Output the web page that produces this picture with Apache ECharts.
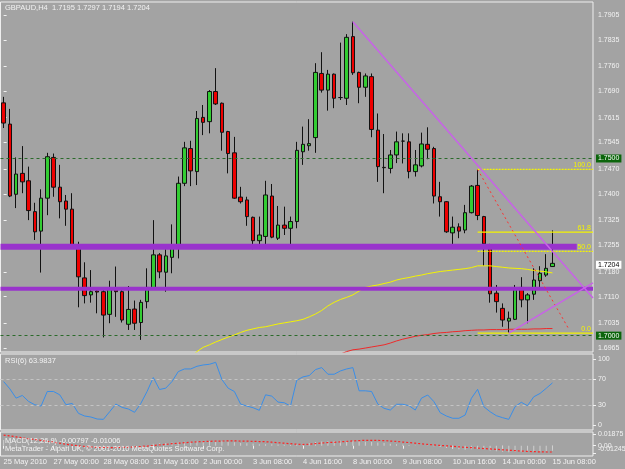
<!DOCTYPE html>
<html><head><meta charset="utf-8">
<script src="https://cdn.jsdelivr.net/npm/echarts/dist/echarts.min.js"></script>
<style>html,body{margin:0;padding:0;background:#a3a3a3;}#c{width:625px;height:469px;}</style>
</head><body><div id="c"></div>
<script>
// ---------- data ----------
const tickLabels = ["25 May 2010","27 May 00:00","28 May 08:00","31 May 16:00","2 Jun 00:00","3 Jun 08:00","4 Jun 16:00","8 Jun 00:00","9 Jun 08:00","10 Jun 16:00","14 Jun 00:00","15 Jun 08:00"];
const priceTicks = [1.7905,1.7835,1.7760,1.7690,1.7615,1.7545,1.7470,1.7400,1.7325,1.7255,1.7180,1.7110,1.7035,1.6965];
const rsiTicks = [0,30,70,100];
const macdTicksTop = [0.01875,0];
const macdTicksBottom = [-0.01245];
// [open, high, low, close]
const candles = [
[1.7657,1.7674,1.7586,1.7600],[1.7597,1.7640,1.7391,1.7394],[1.7399,1.7503,1.7360,1.7456],[1.7458,1.7535,1.7402,1.7434],
[1.7437,1.7477,1.7326,1.7353],[1.7350,1.7375,1.7270,1.7293],[1.7295,1.7413,1.7178,1.7388],[1.7388,1.7516,1.7340,1.7505],
[1.7503,1.7514,1.7392,1.7419],[1.7419,1.7482,1.7331,1.7378],[1.7380,1.7397,1.7310,1.7357],[1.7357,1.7402,1.7245,1.7251],
[1.7254,1.7265,1.7080,1.7166],[1.7163,1.7207,1.7091,1.7113],[1.7115,1.7185,1.7093,1.7124],[1.7126,1.7129,1.7063,1.7123],
[1.7124,1.7129,1.6995,1.7058],[1.7060,1.7155,1.7035,1.7131],[1.7129,1.7195,1.7053,1.7124],[1.7124,1.7131,1.7037,1.7044],
[1.7032,1.7140,1.7016,1.7074],[1.7075,1.7099,1.7016,1.7035],[1.7037,1.7101,1.6988,1.7094],[1.7096,1.7190,1.7077,1.7136],
[1.7133,1.7326,1.7131,1.7228],[1.7228,1.7233,1.7162,1.7180],[1.7179,1.7244,1.7124,1.7225],[1.7221,1.7314,1.7176,1.7249],
[1.7247,1.7449,1.7218,1.7430],[1.7430,1.7547,1.7422,1.7530],[1.7528,1.7550,1.7422,1.7465],[1.7463,1.7634,1.7425,1.7613],
[1.7616,1.7651,1.7566,1.7602],[1.7604,1.7693,1.7571,1.7689],[1.7689,1.7755,1.7651,1.7654],[1.7656,1.7658,1.7522,1.7574],
[1.7576,1.7578,1.7458,1.7514],[1.7516,1.7561,1.7386,1.7388],[1.7391,1.7420,1.7373,1.7378],[1.7383,1.7392,1.7310,1.7336],
[1.7334,1.7336,1.7244,1.7268],[1.7268,1.7336,1.7251,1.7284],[1.7280,1.7437,1.7249,1.7397],[1.7394,1.7428,1.7275,1.7278],
[1.7275,1.7366,1.7270,1.7312],[1.7312,1.7364,1.7284,1.7303],[1.7303,1.7336,1.7256,1.7322],[1.7322,1.7547,1.7303,1.7523],
[1.7519,1.7590,1.7482,1.7540],[1.7536,1.7611,1.7522,1.7542],[1.7559,1.7769,1.7516,1.7743],[1.7740,1.7800,1.7686,1.7693],
[1.7693,1.7750,1.7635,1.7738],[1.7738,1.7740,1.7642,1.7670],[1.7672,1.7827,1.7665,1.7672],[1.7670,1.7851,1.7651,1.7842],
[1.7844,1.7886,1.7736,1.7742],[1.7743,1.7745,1.7656,1.7701],[1.7701,1.7740,1.7674,1.7733],[1.7731,1.7740,1.7560,1.7582],
[1.7580,1.7627,1.7434,1.7477],[1.7475,1.7569,1.7402,1.7474],[1.7472,1.7524,1.7458,1.7510],[1.7510,1.7576,1.7487,1.7547],
[1.7549,1.7571,1.7486,1.7549],[1.7547,1.7571,1.7444,1.7463],[1.7463,1.7524,1.7449,1.7482],[1.7479,1.7573,1.7475,1.7541],
[1.7540,1.7588,1.7498,1.7526],[1.7528,1.7533,1.7373,1.7394],[1.7392,1.7434,1.7336,1.7378],[1.7378,1.7380,1.7290,1.7293],
[1.7290,1.7336,1.7251,1.7306],[1.7307,1.7317,1.7275,1.7295],[1.7298,1.7369,1.7289,1.7347],[1.7347,1.7425,1.7345,1.7422],
[1.7424,1.7469,1.7326,1.7339],[1.7336,1.7338,1.7197,1.7259],[1.7257,1.7259,1.7093,1.7118],[1.7120,1.7143,1.7065,1.7096],
[1.7077,1.7091,1.7025,1.7044],[1.7041,1.7068,1.7007,1.7049],[1.7046,1.7143,1.7044,1.7135],[1.7136,1.7165,1.7080,1.7101],
[1.7101,1.7120,1.7035,1.7115],[1.7117,1.7190,1.7101,1.7157],[1.7155,1.7196,1.7129,1.7176],[1.7171,1.7230,1.7166,1.7190],
[1.7195,1.7297,1.7194,1.7204]
];
const maYellowStart = 30;
const maYellow = [1.6940,1.6955,1.6967,1.6974,1.6982,1.6989,1.6996,1.7002,1.7009,1.7015,1.7019,1.7023,1.7025,1.7029,1.7033,1.7036,1.7039,1.7042,1.7046,1.7053,1.7061,1.7071,1.7084,1.7094,1.7102,1.7108,1.7115,1.7126,1.7136,1.7140,1.7143,1.7147,1.7151,1.7157,1.7161,1.7164,1.7168,1.7171,1.7175,1.7178,1.7181,1.7183,1.7185,1.7187,1.7189,1.7192,1.7197,1.7197,1.7197,1.7195,1.7193,1.7191,1.7190,1.7189,1.7187,1.7184,1.7182,1.7180,1.7177];
const maRedStart = 54;
const maRed = [1.6948,1.6955,1.6960,1.6962,1.6965,1.6968,1.6971,1.6974,1.6979,1.6985,1.6990,1.6994,1.6998,1.7001,1.7003,1.7006,1.7008,1.7009,1.7011,1.7012,1.7014,1.7015,1.7016,1.7016,1.7017,1.7017,1.7017,1.7018,1.7018,1.7018,1.7018,1.7019,1.7019,1.7020,1.7020];
const rsi = [66,55,41,45,36,31,29,51,51,46,31,33,18,14,12.5,9.5,9,20.5,32,27,24.6,19.6,33,51,72,54,56,66,81,85,85,89,91,92,95,69,56,51,32,29,26.5,22.6,46,44,35,34,29,68,73,75,84,87,77,77,82,85,87,52,52,51,32,25.6,23,31.7,31.7,29.6,23,41,45.7,35.6,19,14,10.6,10.6,15.5,40.7,54.3,28,20.5,14.5,11.5,9,28,34.7,29.6,43,48,55.8,63.98];
const macdMain = [0.0090,0.0060,0.0035,0.0015,0.0005,-0.0005,-0.0010,-0.0015,-0.0020,-0.0025,
-0.0030,-0.0035,-0.0040,-0.0042,-0.0040,-0.0038,-0.0035,-0.0030,-0.0025,-0.0018,
-0.0012,-0.0006,0.0003,0.0012,0.0030,0.0040,0.0045,0.0050,0.0055,0.0062,
0.0068,0.0072,0.0074,0.0075,0.0075,0.0070,0.0062,0.0055,0.0045,0.0038,
0.0035,0.0025,0.0025,0.0022,0.0018,0.0015,0.0012,0.0025,0.0035,0.0045,
0.0058,0.0066,0.0072,0.0075,0.0078,0.0080,0.0080,0.0072,0.0065,0.0058,
0.0050,0.0042,0.0030,0.0025,0.0018,0.0010,0.0002,0.0000,-0.0005,-0.0010,
-0.0022,-0.0035,-0.0048,-0.0058,-0.0065,-0.0058,-0.0052,-0.0060,-0.0075,-0.0088,
-0.0098,-0.0105,-0.0100,-0.0098,-0.0098,-0.0092,-0.0088,-0.0084,-0.00797];
const macdSignal = [0.0171,0.0158,0.0142,0.0126,0.0112,0.0099,0.0086,0.0072,0.0056,0.0040,
0.0024,0.0011,-0.0002,-0.0011,-0.0019,-0.0024,-0.0027,-0.0029,-0.0029,-0.0027,
-0.0024,-0.0019,-0.0013,-0.0005,0.0003,0.0013,0.0022,0.0032,0.0040,0.0048,
0.0056,0.0062,0.0067,0.0070,0.0074,0.0075,0.0077,0.0077,0.0075,0.0074,
0.0070,0.0067,0.0064,0.0056,0.0048,0.0040,0.0032,0.0024,0.0021,0.0024,
0.0034,0.0043,0.0051,0.0054,0.0062,0.0070,0.0077,0.0082,0.0086,0.0086,
0.0085,0.0082,0.0075,0.0069,0.0059,0.0050,0.0040,0.0030,0.0021,0.0013,
0.0005,-0.0002,-0.0010,-0.0018,-0.0026,-0.0032,-0.0038,-0.0045,-0.0051,-0.0058,
-0.0065,-0.0072,-0.0079,-0.0086,-0.0091,-0.0095,-0.0098,-0.0100,-0.01006];
// drawn objects (bar index, price)
const trendDown = [[56,1.7886],[94.5,1.7106]];
const trendUp = [[81,1.7007],[94.5,1.7149]];
const fibDiagonal = [[76,1.7469],[90.7,1.7016]];
const bandUpper = [[-0.5,1.7251],[91.9,1.7251]];
const bandLower = [[-0.5,1.7132],[94.5,1.7132]];
const fibStart = 76, fibEnd = 94.5;
const fibLevels = [{label:'100.0',price:1.7469},{label:'61.8',price:1.7292},{label:'50.0',price:1.7238},{label:'0.0',price:1.7007}];
const hLines = [{price:1.7500,text:'1.7500'},{price:1.7000,text:'1.7000'}];
const lastPrice = 1.7204;

// ---------- chart ----------
const SLOTS = 95;
const cats = Array.from({length:SLOTS},(_,i)=>String(i));
const pad = (start, arr) => Array(start).fill('-').concat(arr);
const FONT = 'Liberation Sans';
const WHITE = '#f2f2f2';
const YELLOW = '#f4f400';
const fibDash = {'100.0':[2,1], '50.0':[2,1]};
const labelIdx = i => i % 8 === 0 && i <= 88;

const chart = echarts.init(document.getElementById('c'), null, {width:625, height:469});
const gridBase = {left:0.5, width:592.5, show:true, borderColor:'#eeeeee', borderWidth:1, backgroundColor:'transparent', containLabel:false, outerBoundsMode:'none'};
const hiddenCat = g => ({type:'category', gridIndex:g, data:cats, boundaryGap:true, axisLine:{show:false}, axisTick:{show:false}, axisLabel:{show:false}, splitLine:{show:false}});
const macdAxis = (ticks, fmt, rich) => ({type:'value', gridIndex:2, position:'right', min:-0.01645, max:0.02195, splitLine:{show:false},
  axisLine:{show:false},
  axisTick:{show:true, length:3, customValues:ticks, lineStyle:{color:WHITE}},
  axisLabel:{show:true, customValues:ticks, margin:5, color:WHITE, fontSize:7, fontFamily:FONT, formatter:fmt, rich:rich, hideOverlap:false}});

const fibSeries = fibLevels.map(f => ({
  type:'line', xAxisIndex:1, yAxisIndex:0, showSymbol:false, z:5, silent:true,
  data:[[fibStart,f.price],[fibEnd,f.price]],
  lineStyle:{color:YELLOW, width:1.2, type: fibDash[f.label] || 'solid'},
  markPoint:{symbol:'rect', symbolSize:0.01, silent:true, animation:false, itemStyle:{color:'rgba(0,0,0,0)'},
    data:[{coord:[fibEnd,f.price],
      label:{show:true, position:'top', align:'right', distance:1, offset:[-2,0], formatter:f.label, color:YELLOW, fontSize:7, fontFamily:FONT}}]}
}));

chart.setOption({
  animation:false,
  backgroundColor:'#a3a3a3',
  textStyle:{fontFamily:FONT},
  grid:[
    Object.assign({top:2, height:350}, gridBase),
    Object.assign({top:354, height:76}, gridBase),
    Object.assign({top:432, height:24}, gridBase)
  ],
  xAxis:[
    hiddenCat(0),
    {type:'value', gridIndex:0, min:-0.5, max:94.5, show:false},
    hiddenCat(1),
    {type:'category', gridIndex:2, data:cats, boundaryGap:true, axisLine:{show:false},
      axisTick:{show:true, alignWithLabel:true, interval:labelIdx, length:3, lineStyle:{color:WHITE}},
      axisLabel:{show:true, interval:labelIdx, align:'left', margin:2, color:WHITE, fontSize:7.5, fontFamily:FONT,
        formatter:(v,i)=>tickLabels[Math.round(Number(v)/8)] || ''},
      splitLine:{show:false}}
  ],
  yAxis:[
    {type:'value', gridIndex:0, position:'right', min:1.69538, max:1.79417, splitLine:{show:false},
      axisLine:{show:false},
      axisTick:{show:true, length:3, customValues:priceTicks, lineStyle:{color:WHITE}},
      axisLabel:{show:true, customValues:priceTicks, margin:5, color:WHITE, fontSize:7, fontFamily:FONT, formatter:v=>v.toFixed(4)}},
    {type:'value', gridIndex:1, position:'right', min:-7.09, max:107.54, splitLine:{show:false},
      axisLine:{show:false},
      axisTick:{show:true, length:3, customValues:rsiTicks, lineStyle:{color:WHITE}},
      axisLabel:{show:true, customValues:rsiTicks, margin:5, color:WHITE, fontSize:7, fontFamily:FONT, formatter:v=>String(Math.round(v))}},
    macdAxis(macdTicksTop, v => (v > 0.01 ? '0.01875' : '0.00')),
    macdAxis(macdTicksBottom, () => '{b|-0.01245}', {b:{color:WHITE, fontSize:7, fontFamily:FONT, padding:[0,0,8,0]}})
  ],
  series:[
    {type:'candlestick', xAxisIndex:0, yAxisIndex:0, barWidth:4, z:3,
      data:candles.map(c=>[c[0],c[3],c[2],c[1]]),
      itemStyle:{color:'#33cc33', color0:'#ee0000', borderColor:'#111', borderColor0:'#111', borderColorDoji:'#111', borderWidth:1},
      markLine:{symbol:['none','none'], silent:true, animation:false,
        data: hLines.map(h=>({yAxis:h.price, lineStyle:{color:'#2b6a2b', type:[3,3], width:1},
            label:{show:true, position:'end', distance:3, formatter:h.text, color:'#ffffff', backgroundColor:'#0b650b', padding:[1,2,0,2], fontSize:7, fontFamily:FONT}}))
          .concat([{yAxis:lastPrice, lineStyle:{color:'rgba(0,0,0,0)', width:0},
            label:{show:true, position:'end', distance:3, formatter:lastPrice.toFixed(4), color:'#000', backgroundColor:'#ffffff', padding:[1,2,0,2], fontSize:7, fontFamily:FONT}}])
      }},
    {type:'line', xAxisIndex:0, yAxisIndex:0, data:pad(maYellowStart, maYellow), showSymbol:false, z:4,
      lineStyle:{color:YELLOW, width:1}},
    {type:'line', xAxisIndex:0, yAxisIndex:0, data:pad(maRedStart, maRed), showSymbol:false, z:4,
      lineStyle:{color:'#ee2a2a', width:1}},
    {type:'line', xAxisIndex:1, yAxisIndex:0, data:bandUpper, showSymbol:false, z:5,
      lineStyle:{color:'#9933cc', width:6, cap:'butt'}},
    {type:'line', xAxisIndex:1, yAxisIndex:0, data:bandLower, showSymbol:false, z:5,
      lineStyle:{color:'#9933cc', width:4, cap:'butt'}},
    {type:'line', xAxisIndex:1, yAxisIndex:0, data:fibDiagonal, showSymbol:false, z:5,
      lineStyle:{color:'#ff3030', width:1, type:[2,3]}},
    ...fibSeries,
    {type:'line', xAxisIndex:1, yAxisIndex:0, data:trendDown, showSymbol:false, z:6,
      lineStyle:{color:'#c862e8', width:1.5}},
    {type:'line', xAxisIndex:1, yAxisIndex:0, data:trendUp, showSymbol:false, z:6,
      lineStyle:{color:'#c862e8', width:1.5}},
    {type:'line', xAxisIndex:2, yAxisIndex:1, data:rsi, showSymbol:false, z:4,
      lineStyle:{color:'#3a8ee8', width:1},
      markLine:{symbol:['none','none'], silent:true, animation:false, label:{show:false},
        data:[{yAxis:70},{yAxis:30}], lineStyle:{color:'#c4c4c4', type:[3,3], width:1}}},
    {type:'bar', xAxisIndex:3, yAxisIndex:2, data:macdMain, barWidth:1, z:2,
      itemStyle:{color:'#cfcfcf'}},
    {type:'line', xAxisIndex:3, yAxisIndex:2, data:macdSignal, showSymbol:false, z:4,
      lineStyle:{color:'#ff2222', width:1.2, type:[2,2]}}
  ],
  graphic:[
    {type:'text', left:5, top:4, z:100, style:{text:'GBPAUD,H4  1.7195 1.7297 1.7194 1.7204', fill:WHITE, fontSize:7.5, fontFamily:FONT}},
    {type:'text', left:5, top:357, z:100, style:{text:'RSI(6) 63.9837', fill:WHITE, fontSize:7.5, fontFamily:FONT}},
    {type:'text', left:5, top:436.5, z:100, style:{text:'MACD(12,26,9) -0.00797 -0.01006', fill:WHITE, fontSize:7.5, fontFamily:FONT}},
    {type:'text', left:5, top:445, z:100, style:{text:'MetaTrader - Alpari UK, \u00a9 2001-2010 MetaQuotes Software Corp.', fill:WHITE, fontSize:7.5, fontFamily:FONT}}
  ]
});
</script></body></html>
